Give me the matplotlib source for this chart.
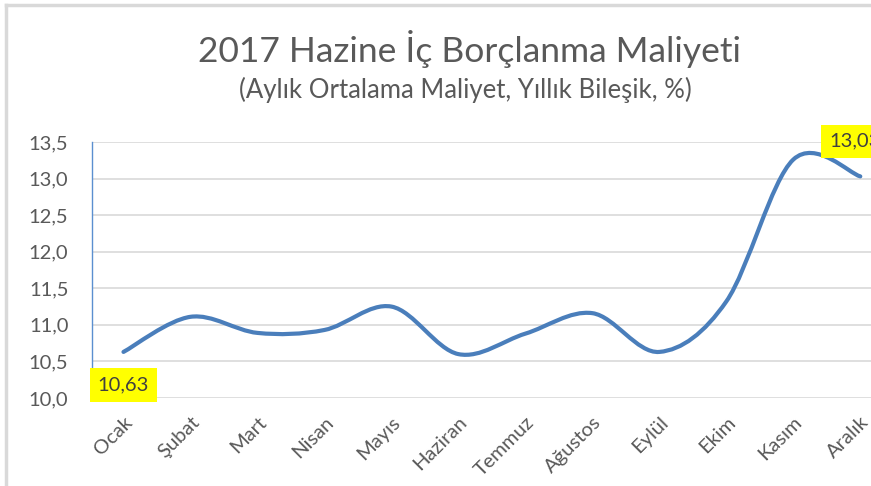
import matplotlib.pyplot as plt
import numpy as np
from matplotlib.path import Path
from matplotlib.patches import PathPatch
from matplotlib.lines import Line2D

months = ['Ocak', 'Şubat', 'Mart', 'Nisan', 'Mayıs', 'Haziran',
          'Temmuz', 'Ağustos', 'Eylül', 'Ekim', 'Kasım', 'Aralık']
cost = [10.63, 11.11, 10.89, 10.93, 11.25, 10.60,
        10.88, 11.16, 10.63, 11.32, 13.26, 13.03]
yticks = [10.0, 10.5, 11.0, 11.5, 12.0, 12.5, 13.0, 13.5]

plt.rcParams['font.family'] = ['Lato', 'DejaVu Sans']
grey = '#595959'
blue = '#4a7ebb'

fig = plt.figure(figsize=(8.71, 4.86), dpi=100)
ax = fig.add_axes([92 / 871, 1 - 398 / 486, 1 - 92 / 871, 256 / 486])

x = np.arange(len(cost))
y = np.array(cost)

# excel style smoothed line: bezier segments through the points
verts = [(x[0], y[0])]
codes = [Path.MOVETO]
n = len(x)
for i in range(n - 1):
    p0 = np.array([x[max(i - 1, 0)], y[max(i - 1, 0)]])
    p1 = np.array([x[i], y[i]])
    p2 = np.array([x[i + 1], y[i + 1]])
    p3 = np.array([x[min(i + 2, n - 1)], y[min(i + 2, n - 1)]])
    c1 = p1 + (p2 - p0) / 6
    c2 = p2 - (p3 - p1) / 6
    verts += [tuple(c1), tuple(c2), tuple(p2)]
    codes += [Path.CURVE4] * 3
ax.add_patch(PathPatch(Path(verts, codes), facecolor='none', edgecolor=blue,
                       lw=3, capstyle='round', joinstyle='round', zorder=3))

ax.set_xlim(-0.47, 11.16)
ax.set_ylim(10.0, 13.5)
ax.set_yticks(yticks)
ax.set_yticklabels([f'{v:.1f}'.replace('.', ',') for v in yticks])
ax.set_xticks(x)
ax.set_xticklabels(months, rotation=45, ha='right', va='top',
                   rotation_mode='anchor')
ax.tick_params(axis='both', length=0, colors=grey, labelsize=14.5)
ax.tick_params(axis='x', pad=11)
ax.tick_params(axis='y', pad=17)
ax.grid(axis='y', color='#d9d9d9', lw=1.2)
ax.set_axisbelow(True)
for s in ['top', 'right', 'bottom']:
    ax.spines[s].set_visible(False)
ax.spines['left'].set_color('#5b8fd0')
ax.spines['left'].set_linewidth(1)

# data labels at first and last point (the last one runs off the edge, as in the original)
ax.text(x[0], 10.18, f'{cost[0]:.2f}'.replace('.', ','), ha='center',
        va='center', fontsize=14.5, color='#404040', zorder=4,
        bbox=dict(facecolor='#ffff00', edgecolor='none', pad=6))
ax.text(x[-1] - 0.46, 13.51, f'{cost[-1]:.2f}'.replace('.', ','), ha='left',
        va='center', fontsize=14.5, color='#404040', zorder=4, clip_on=False,
        bbox=dict(facecolor='#ffff00', edgecolor='none', pad=6))

fig.text(470 / 871, 1 - 49 / 486, '2017 Hazine İç Borçlanma Maliyeti',
         ha='center', va='center', fontsize=25.5, color=grey)
fig.text(465 / 871, 1 - 90 / 486, '(Aylık Ortalama Maliyet, Yıllık Bileşik, %)',
         ha='center', va='center', fontsize=18.5, color=grey)

# outer chart border
fig.add_artist(Line2D([6 / 871, 1], [1 - 5 / 486] * 2, color='#d9d9d9', lw=2.5))
fig.add_artist(Line2D([6 / 871] * 2, [0, 1 - 5 / 486], color='#d9d9d9', lw=2.5))

fig.savefig('out.png', dpi=100, facecolor='white')
